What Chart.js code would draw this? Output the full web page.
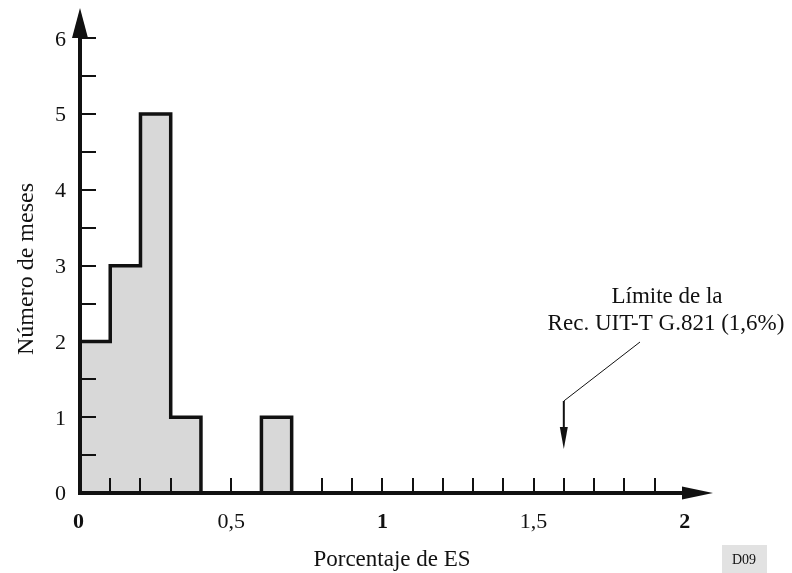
<!DOCTYPE html>
<html>
<head>
<meta charset="utf-8">
<script src="https://cdn.jsdelivr.net/npm/chart.js@4/dist/chart.umd.min.js"></script>
<style>
  html, body { margin: 0; padding: 0; background: #fff; }
  canvas { display: block; }
</style>
</head>
<body>
<canvas id="c" width="792" height="573"></canvas>
<script>
// ---- data ----
const binStarts = [0, 0.1, 0.2, 0.3, 0.4, 0.5, 0.6, 0.7, 0.8, 0.9, 1.0, 1.1, 1.2, 1.3, 1.4, 1.5, 1.6, 1.7, 1.8, 1.9];
const binWidth = 0.1;
const monthCounts = [2, 3, 5, 1, 0, 0, 1, 0, 0, 0, 0, 0, 0, 0, 0, 0, 0, 0, 0, 0];
const xTickLabels = ["0", "0,5", "1", "1,5", "2"];
const xTickValues = [0, 0.5, 1, 1.5, 2];
const yTickValues = [0, 1, 2, 3, 4, 5, 6];
const xTitle = "Porcentaje de ES";
const yTitle = "Número de meses";
const noteLines = ["Límite de la", "Rec. UIT-T G.821 (1,6%)"];
const limitValue = 1.6;
const figureCode = "D09";

const points = binStarts.map((x, i) => ({ x: x, y: monthCounts[i] }));
points.push({ x: binStarts[binStarts.length - 1] + binWidth, y: 0 });

const SERIF = '"Liberation Serif", "Times New Roman", serif';
const INK = '#111';

const drawPlugin = {
  id: 'drawAxes',
  afterDatasetsDraw(chart) {
    const ctx = chart.ctx;
    const xs = chart.scales.x, ys = chart.scales.y;
    const x0 = xs.getPixelForValue(0), y0 = ys.getPixelForValue(0);
    ctx.save();
    ctx.strokeStyle = INK; ctx.fillStyle = INK;
    // x ticks (every 0.1, pointing up)
    ctx.lineWidth = 2;
    for (let i = 1; i <= 19; i++) {
      const px = Math.round(xs.getPixelForValue(i / 10));
      ctx.beginPath(); ctx.moveTo(px, y0); ctx.lineTo(px, y0 - 15); ctx.stroke();
    }
    // y ticks (every 0.5, pointing right)
    for (let i = 1; i <= 12; i++) {
      const py = Math.round(ys.getPixelForValue(i / 2));
      ctx.beginPath(); ctx.moveTo(x0, py); ctx.lineTo(x0 + 16, py); ctx.stroke();
    }
    // axes lines
    ctx.lineWidth = 4;
    const xEnd = chart.chartArea.right - 2;
    const yEnd = chart.chartArea.top;
    ctx.beginPath(); ctx.moveTo(x0 - 2, y0); ctx.lineTo(xEnd - 25, y0); ctx.stroke();
    ctx.beginPath(); ctx.moveTo(x0, y0 + 2); ctx.lineTo(x0, yEnd + 25); ctx.stroke();
    // arrow heads
    ctx.beginPath();
    ctx.moveTo(xEnd, y0); ctx.lineTo(xEnd - 31, y0 - 6.5); ctx.lineTo(xEnd - 31, y0 + 6.5); ctx.closePath(); ctx.fill();
    ctx.beginPath();
    ctx.moveTo(x0, yEnd); ctx.lineTo(x0 - 8, yEnd + 30); ctx.lineTo(x0 + 8, yEnd + 30); ctx.closePath(); ctx.fill();

    // tick labels
    ctx.textBaseline = 'middle';
    ctx.textAlign = 'right';
    ctx.font = '22px ' + SERIF;
    yTickValues.forEach(v => {
      ctx.fillText(String(v), 66, ys.getPixelForValue(v) + 1.5);
    });
    ctx.textAlign = 'center';
    xTickValues.forEach((v, i) => {
      const lab = xTickLabels[i];
      ctx.font = (lab.indexOf(',') < 0 ? 'bold ' : '') + '22px ' + SERIF;
      ctx.fillText(lab, xs.getPixelForValue(v) - (v === 0 ? 1.5 : 0), 522);
    });

    // axis titles
    ctx.font = '23px ' + SERIF;
    ctx.fillText(xTitle, 392, 560);
    ctx.save();
    ctx.translate(27, 269);
    ctx.rotate(-Math.PI / 2);
    ctx.font = '24px ' + SERIF;
    ctx.fillText(yTitle, 0, 0);
    ctx.restore();

    // annotation
    ctx.font = '23px ' + SERIF;
    ctx.fillText(noteLines[0], 667, 297);
    ctx.fillText(noteLines[1], 666, 324);
    const lx = xs.getPixelForValue(limitValue);
    ctx.lineWidth = 1;
    ctx.beginPath(); ctx.moveTo(640, 342); ctx.lineTo(lx, 401); ctx.stroke();
    ctx.lineWidth = 2;
    ctx.beginPath(); ctx.moveTo(lx, 401); ctx.lineTo(lx, 430); ctx.stroke();
    ctx.beginPath(); ctx.moveTo(lx, 449); ctx.lineTo(lx - 4, 427); ctx.lineTo(lx + 4, 427); ctx.closePath(); ctx.fill();

    // figure code box
    ctx.fillStyle = '#e2e2e2';
    ctx.fillRect(722, 545, 45, 28);
    ctx.fillStyle = INK;
    ctx.font = '14px ' + SERIF;
    ctx.fillText(figureCode, 744, 560);
    ctx.restore();
  }
};

new Chart(document.getElementById('c'), {
  type: 'line',
  data: {
    datasets: [{
      data: points,
      stepped: true,
      fill: 'origin',
      backgroundColor: '#d8d8d8',
      borderColor: INK,
      borderWidth: 3.5,
      pointRadius: 0,
      tension: 0
    }]
  },
  options: {
    responsive: false,
    animation: false,
    devicePixelRatio: 1,
    layout: { padding: { left: 80, right: 77, top: 8, bottom: 80 } },
    plugins: { legend: { display: false }, tooltip: { enabled: false } },
    scales: {
      x: { type: 'linear', min: 0, max: 2.1, display: false },
      y: { type: 'linear', min: 0, max: 6.4, display: false }
    }
  },
  plugins: [drawPlugin]
});
</script>
</body>
</html>
